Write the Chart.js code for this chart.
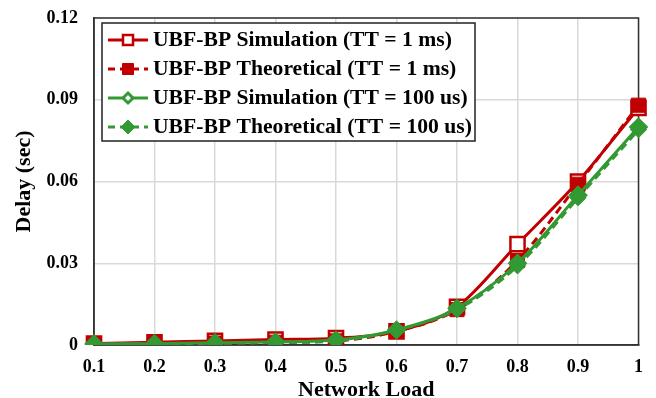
<!DOCTYPE html>
<html>
<head>
<meta charset="utf-8">
<script src="https://cdn.jsdelivr.net/npm/chart.js@4"></script>
<style>
  html, body { margin: 0; padding: 0; background: #fff; }
  #wrap { width: 656px; height: 398px; }
</style>
</head>
<body>
<div id="wrap"><canvas id="delayChart"></canvas></div>
<script>
// network load categories (x axis)
const loads = ['0.1', '0.2', '0.3', '0.4', '0.5', '0.6', '0.7', '0.8', '0.9', '1'];
const yTicks = [0, 0.03, 0.06, 0.09, 0.12];

// delay values (sec)
const simOneMs = [0.0005, 0.001, 0.0015, 0.002, 0.0025, 0.005, 0.014, 0.037, 0.060, 0.087];
const theoOneMs = [0.0003, 0.0005, 0.0007, 0.001, 0.0015, 0.005, 0.013, 0.031, 0.059, 0.088];
const simHundredUs = [0.0004, 0.0005, 0.0008, 0.0011, 0.0018, 0.0055, 0.0135, 0.030, 0.055, 0.080];
const theoHundredUs = [0.0003, 0.0004, 0.0006, 0.0009, 0.0015, 0.0055, 0.013, 0.029, 0.054, 0.079];

const labels = [
    'UBF-BP Simulation (TT = 1 ms)',
    'UBF-BP Theoretical (TT = 1 ms)',
    'UBF-BP Simulation (TT = 100 us)',
    'UBF-BP Theoretical (TT = 100 us)'
];

const RED = '#c00000';
const GREEN = '#339933';
const FONT = '"Liberation Serif", "Times New Roman", serif';

function drawMarker(ctx, style, r, x, y) {
    if (style === 'rect') {
        ctx.rect(x - r, y - r, 2 * r, 2 * r);
    } else {
        ctx.moveTo(x, y - r);
        ctx.lineTo(x + r, y);
        ctx.lineTo(x, y + r);
        ctx.lineTo(x - r, y);
        ctx.closePath();
    }
}

// legend drawn inside the plot, top left, with a box around it
const innerLegend = {
    id: 'innerLegend',
    afterDatasetsDraw(chart) {
        const ctx = chart.ctx;
        const a = chart.chartArea;
        const bx = a.left + 8, by = a.top + 5, bw = 373, bh = 118;
        ctx.save();
        ctx.fillStyle = '#fff';
        ctx.fillRect(bx, by, bw, bh);
        ctx.strokeStyle = '#222';
        ctx.lineWidth = 1.5;
        ctx.strokeRect(bx, by, bw, bh);
        chart.data.datasets.forEach((ds, i) => {
            const y = by + 17 + i * 29;
            ctx.strokeStyle = ds.borderColor;
            ctx.lineWidth = 3;
            ctx.setLineDash(ds.borderDash ? [7, 5] : []);
            ctx.beginPath();
            ctx.moveTo(bx + 6, y);
            ctx.lineTo(bx + 46, y);
            ctx.stroke();
            ctx.setLineDash([]);
            ctx.fillStyle = ds.pointBackgroundColor;
            ctx.strokeStyle = ds.pointBorderColor;
            ctx.lineWidth = ds.legendBorder;
            ctx.beginPath();
            drawMarker(ctx, ds.pointStyle, ds.legendSize, bx + 26, y);
            ctx.fill();
            ctx.stroke();
            ctx.fillStyle = '#000';
            ctx.font = 'bold 21px ' + FONT;
            ctx.textBaseline = 'middle';
            ctx.textAlign = 'left';
            ctx.save();
            ctx.translate(bx + 51, y + 1);
            ctx.scale(1.03, 1);
            ctx.fillText(ds.label, 0, 0);
            ctx.restore();
        });
        ctx.restore();
    }
};

// dark frame around the plot area
const plotFrame = {
    id: 'plotFrame',
    beforeDatasetsDraw(chart) {
        const ctx = chart.ctx;
        const a = chart.chartArea;
        ctx.save();
        ctx.strokeStyle = '#333';
        ctx.lineWidth = 1.5;
        ctx.strokeRect(a.left, a.top, a.right - a.left, a.bottom - a.top);
        ctx.restore();
    }
};

new Chart(document.getElementById('delayChart'), {
    type: 'line',
    data: {
        labels: loads,
        datasets: [{
            label: labels[0],
            data: simOneMs,
            borderColor: RED,
            borderWidth: 3,
            pointStyle: 'rect',
            pointRadius: 10,
            pointBackgroundColor: '#fff',
            pointBorderColor: RED,
            pointBorderWidth: 2.5,
            legendSize: 5,
            legendBorder: 2.5,
            cubicInterpolationMode: 'monotone',
            order: 4
        }, {
            label: labels[1],
            data: theoOneMs,
            borderColor: RED,
            borderWidth: 3,
            borderDash: [8, 5],
            pointStyle: 'rect',
            pointRadius: 10,
            pointBackgroundColor: RED,
            pointBorderColor: RED,
            pointBorderWidth: 1,
            legendSize: 5.5,
            legendBorder: 1,
            cubicInterpolationMode: 'monotone',
            order: 3
        }, {
            label: labels[2],
            data: simHundredUs,
            borderColor: GREEN,
            borderWidth: 3,
            pointStyle: 'rectRot',
            pointRadius: 7,
            pointBackgroundColor: '#fff',
            pointBorderColor: GREEN,
            pointBorderWidth: 4,
            legendSize: 5,
            legendBorder: 3,
            cubicInterpolationMode: 'monotone',
            order: 2
        }, {
            label: labels[3],
            data: theoHundredUs,
            borderColor: GREEN,
            borderWidth: 3,
            borderDash: [8, 5],
            pointStyle: 'rectRot',
            pointRadius: 8,
            pointBackgroundColor: GREEN,
            pointBorderColor: GREEN,
            pointBorderWidth: 1,
            legendSize: 7,
            legendBorder: 1,
            cubicInterpolationMode: 'monotone',
            order: 1
        }]
    },
    options: {
        responsive: true,
        maintainAspectRatio: false,
        animation: false,
        layout: { padding: { left: 0, right: 16, top: 18, bottom: 0 } },
        plugins: {
            legend: { display: false },
            tooltip: { enabled: false }
        },
        scales: {
            x: {
                type: 'category',
                offset: false,
                afterFit(scale) { scale.height = 53; },
                grid: { color: '#d9d9d9', lineWidth: 1.5, drawTicks: false },
                border: { color: '#333', width: 1.5 },
                ticks: {
                    color: '#000',
                    padding: 13,
                    maxRotation: 0,
                    font: { family: FONT, size: 18, weight: 'bold', lineHeight: 1 }
                },
                title: {
                    display: true,
                    text: 'Network Load',
                    color: '#000',
                    padding: { top: 0, bottom: -1.5 },
                    font: { family: FONT, size: 22, weight: 'bold', lineHeight: 0.8 }
                }
            },
            y: {
                min: 0,
                max: 0.12,
                afterFit(scale) {
                    scale.width = 94;
                    scale.paddingTop = 0;
                    scale.paddingBottom = 0;
                },
                afterBuildTicks(scale) {
                    scale.ticks = yTicks.map(v => ({ value: v }));
                },
                grid: { color: '#d9d9d9', lineWidth: 1.5, drawTicks: false },
                border: { color: '#333', width: 1.5 },
                ticks: {
                    color: '#000',
                    padding: 16,
                    callback: v => String(Math.round(v * 100) / 100),
                    font: { family: FONT, size: 18, weight: 'bold' }
                },
                title: {
                    display: true,
                    text: 'Delay (sec)',
                    color: '#000',
                    padding: { top: 13, bottom: 12 },
                    font: { family: FONT, size: 22, weight: 'bold', lineHeight: 1 }
                }
            }
        }
    },
    plugins: [plotFrame, innerLegend]
});
</script>
</body>
</html>
